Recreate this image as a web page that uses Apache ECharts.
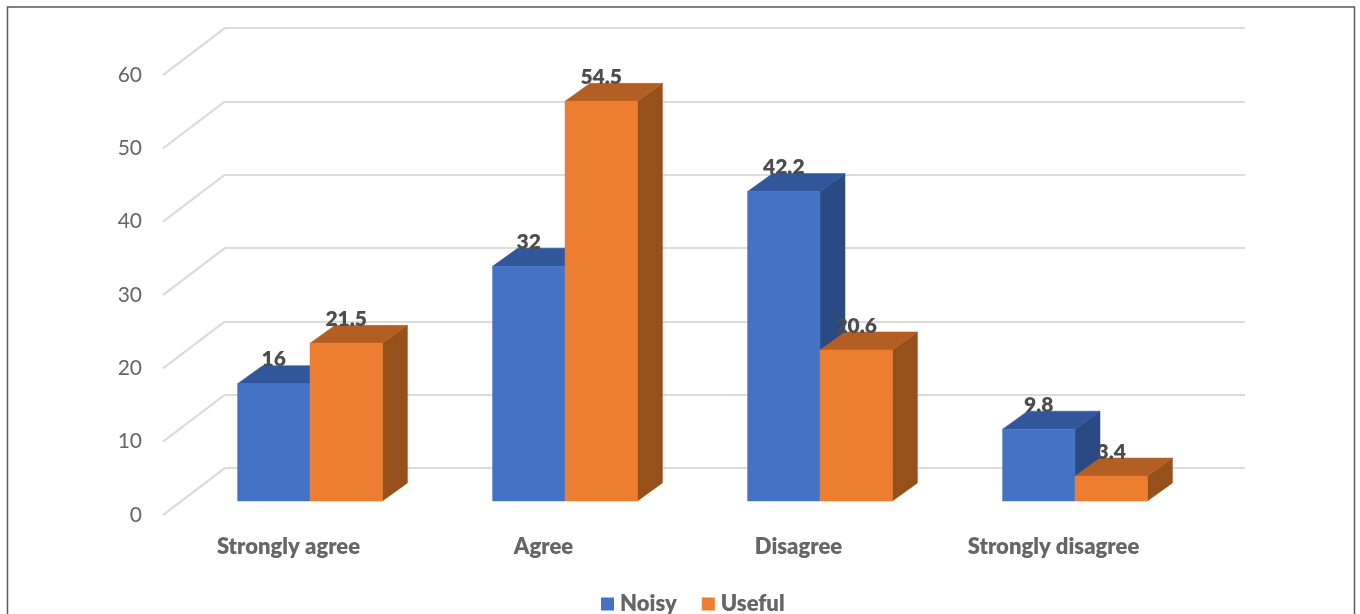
<!DOCTYPE html>
<html>
<head>
<meta charset="utf-8">
<style>html,body{margin:0;padding:0;background:#fff}#chart{width:1360px;height:614px}</style>
<script src="https://cdn.jsdelivr.net/npm/echarts@6/dist/echarts.min.js"></script>
</head>
<body>
<div id="chart"></div>
<script>
const categories = ['Strongly agree', 'Agree', 'Disagree', 'Strongly disagree'];
const noisy = [16, 32, 42.2, 9.8];
const useful = [21.5, 54.5, 20.6, 3.4];
const tickValues = [0, 10, 20, 30, 40, 50, 60];

const FONT = 'Lato, "Open Sans", sans-serif';
const GRID_LINE = '#dcdcdc';
const DEPTH_X = 25, DEPTH_Y = 18;           // receding offset of a bar's top and side faces
const WALL_X = 62, WALL_Y = 47;             // receding offset of the side wall
const BAR_SHARE = 0.284;                    // bar width as a share of a category band
const PANE_SIZE = { width: 1020, height: 440 };

const chart = echarts.init(document.getElementById('chart'), null, { renderer: 'canvas' });

// One cuboid: front face, top face, right face, and its value above.
function barRenderer(slot, front, top, side) {
  return function (params, api) {
    const idx = api.value(0), val = api.value(1);
    const band = api.size([1, 0])[0];
    const w = band * BAR_SHARE;
    const cx = api.coord([idx, val])[0];
    const xL = cx + slot * w, xR = xL + w;
    const yT = api.coord([idx, val])[1], yB = api.coord([idx, 0])[1];
    const poly = (points, fill) => ({
      type: 'polygon', shape: { points }, style: { fill, stroke: fill, lineWidth: 0.5 }
    });
    return {
      type: 'group',
      children: [
        poly([[xR, yT], [xR + DEPTH_X, yT - DEPTH_Y], [xR + DEPTH_X, yB - DEPTH_Y], [xR, yB]], side),
        poly([[xL, yT], [xL + DEPTH_X, yT - DEPTH_Y], [xR + DEPTH_X, yT - DEPTH_Y], [xR, yT]], top),
        poly([[xL, yT], [xR, yT], [xR, yB], [xL, yB]], front),
        {
          type: 'text', z2: 100,
          style: {
            x: (xL + xR) / 2, y: yT - 24, text: String(val), fill: '#4d4d4d',
            font: '800 21px ' + FONT, align: 'center', verticalAlign: 'middle'
          }
        }
      ]
    };
  };
}

// Diagonal rule on the side wall at each tick of the value axis.
function wallRenderer(params, api) {
  const band = api.size([1, 0])[0];
  const p = api.coord([0, api.value(0)]);
  const x = p[0] - band / 2, y = p[1];
  return {
    type: 'line',
    shape: { x1: x, y1: y, x2: x + WALL_X, y2: y - WALL_Y },
    style: { stroke: GRID_LINE, lineWidth: 2.2 }
  };
}

const catAxis = (gridIndex, extra) => Object.assign({
  type: 'category', gridIndex, data: categories,
  axisLine: { show: false }, axisTick: { show: false }, axisLabel: { show: false }, splitLine: { show: false }
}, extra);
const valAxis = (gridIndex, extra) => Object.assign({
  type: 'value', gridIndex, min: 0, max: 60, interval: 10,
  axisLine: { show: false }, axisTick: { show: false }, axisLabel: { show: false }, splitLine: { show: false }
}, extra);

chart.setOption({
  animation: false,
  backgroundColor: '#fff',
  graphic: [{
    type: 'rect', z: -1, silent: true,
    shape: { x: 7.5, y: 7, width: 1347, height: 640 },
    style: { fill: 'none', stroke: '#5a5a5a', lineWidth: 1.5 }
  }],
  legend: {
    data: ['Noisy', 'Useful'], left: 601, top: 593,
    icon: 'rect', itemWidth: 13, itemHeight: 13, itemGap: 25, padding: 0,
    textStyle: { fontFamily: FONT, fontWeight: 800, fontSize: 22, color: '#666666', padding: [0, 0, 0, 1] }
  },
  grid: [
    // front edge of the floor: axis labels and wall rules
    { left: 163, top: 75, ...PANE_SIZE },
    // back wall
    { left: 225, top: 28, ...PANE_SIZE },
    // plane of the bars' front faces
    { left: 182.5, top: 61, ...PANE_SIZE }
  ],
  xAxis: [
    catAxis(0, {
      axisLabel: {
        show: true, margin: 21, interval: 0, padding: [0, 4, 0, 0],
        fontFamily: FONT, fontWeight: 800, fontSize: 22, color: '#666666'
      }
    }),
    catAxis(1),
    catAxis(2)
  ],
  yAxis: [
    valAxis(0, {
      axisLabel: { show: true, margin: 21, padding: [2, 0, 0, 0], fontFamily: FONT, fontSize: 21, color: '#666666' }
    }),
    valAxis(1, { splitLine: { show: true, lineStyle: { color: GRID_LINE, width: 2.2 } } }),
    valAxis(2)
  ],
  series: [
    {
      name: 'Wall', type: 'custom', xAxisIndex: 0, yAxisIndex: 0, silent: true, z: 1,
      renderItem: wallRenderer, data: tickValues.map(v => [v]), encode: { y: 0 }
    },
    {
      name: 'Noisy', type: 'custom', xAxisIndex: 2, yAxisIndex: 2, z: 3,
      itemStyle: { color: '#4472C4' },
      renderItem: barRenderer(-1, '#4472C4', '#31569A', '#2B4983'),
      data: noisy.map((v, i) => [i, v]), encode: { x: 0, y: 1 }
    },
    {
      name: 'Useful', type: 'custom', xAxisIndex: 2, yAxisIndex: 2, z: 3,
      itemStyle: { color: '#ED7D31' },
      renderItem: barRenderer(0, '#ED7D31', '#B35F24', '#95501B'),
      data: useful.map((v, i) => [i, v]), encode: { x: 0, y: 1 }
    }
  ]
});
</script>
</body>
</html>
